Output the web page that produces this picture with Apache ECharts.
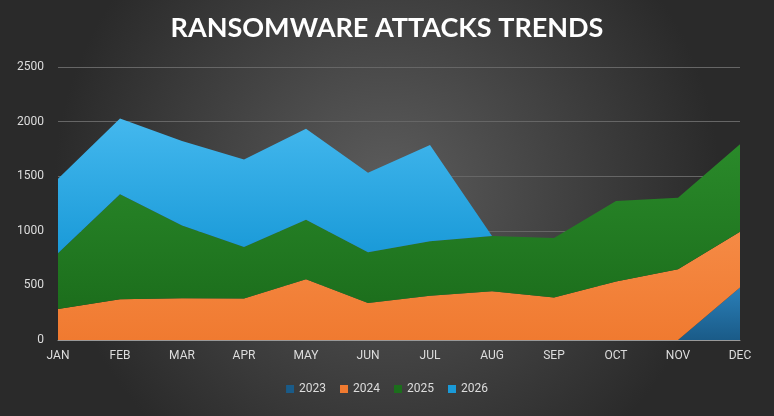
<!DOCTYPE html>
<html><head><meta charset="utf-8">
<script src="https://cdn.jsdelivr.net/npm/echarts@6/dist/echarts.min.js"></script>
<style>html,body{margin:0;padding:0;}#c{width:774px;height:416px;}</style>
</head><body><div id="c"></div>
<script>
var months = ['JAN','FEB','MAR','APR','MAY','JUN','JUL','AUG','SEP','OCT','NOV','DEC'];
var s2023 = [0,0,0,0,0,0,0,0,0,0,0,481];
var s2024 = [284,373,382,379,557,339,405,446,389,536,648,511];
var s2025 = [511,961,666,473,545,465,500,506,545,738,655,801];
var s2026 = [682,694,775,801,833,728,880,0,0,0,0,0];
var names = ['2023','2024','2025','2026'];
var colors = ['#1a5b88','#f07a30','#1c6e1c','#1a9ad8'];
var tops = ['#2a7fb8','#f58a45','#2a8a2a','#44b8ee'];

var all = [s2023,s2024,s2025,s2026];
var series = [];
var base = months.map(function(){return 0;});
all.forEach(function(d,i){
  series.push({
    name:names[i], type:'line', stack:'t', data:d, symbol:'none',
    lineStyle:{width:0},
    areaStyle:{opacity:1,color:new echarts.graphic.LinearGradient(0,0,0,1,[{offset:0,color:tops[i]},{offset:1,color:colors[i]}])},
    itemStyle:{color:colors[i]}
  });
  // label helpers in the middle of each band
  var mid = d.map(function(v,k){ return base[k] + v/2; });
  series.push({
    type:'scatter', symbolSize:1, itemStyle:{opacity:0}, silent:true, z:10,
    data:mid.map(function(m,k){
      var show = d[k] > 0 && !(i===3 && k===6);
      return {value:[k,m], label:{show:show, formatter:String(d[k])}};
    }),
    label:{position:'inside', color:'#fff', fontSize:13, fontFamily:'Roboto'}
  });
  base = base.map(function(b,k){ return b + d[k]; });
});

var chart = echarts.init(document.getElementById('c'));
chart.setOption({
  backgroundColor:{type:'radial',x:0.5,y:0.45,r:0.8,colorStops:[{offset:0,color:'#5c5c5c'},{offset:1,color:'#2a2a2a'}]},
  title:{text:'RANSOMWARE ATTACKS TRENDS',left:'center',top:10,
    textStyle:{color:'#fff',fontSize:27,fontWeight:'bold',fontFamily:'Lato'}},
  legend:{data:names,bottom:16,icon:'rect',itemWidth:8,itemHeight:8,itemGap:14,
    textStyle:{color:'#ddd',fontSize:12,fontFamily:'Roboto'}},
  grid:{left:58,right:34,top:67,bottom:76},
  xAxis:{type:'category',data:months,boundaryGap:false,
    axisLine:{lineStyle:{color:'#999'}},axisTick:{show:false},
    axisLabel:{color:'#ddd',fontSize:12,margin:10,fontFamily:'Roboto'}},
  yAxis:{type:'value',min:0,max:2500,interval:500,
    axisLabel:{color:'#ddd',fontSize:12,margin:14,fontFamily:'Roboto',formatter:function(v){return String(v);}},
    splitLine:{lineStyle:{color:'#666',width:1}}},
  series:series
});
</script></body></html>
